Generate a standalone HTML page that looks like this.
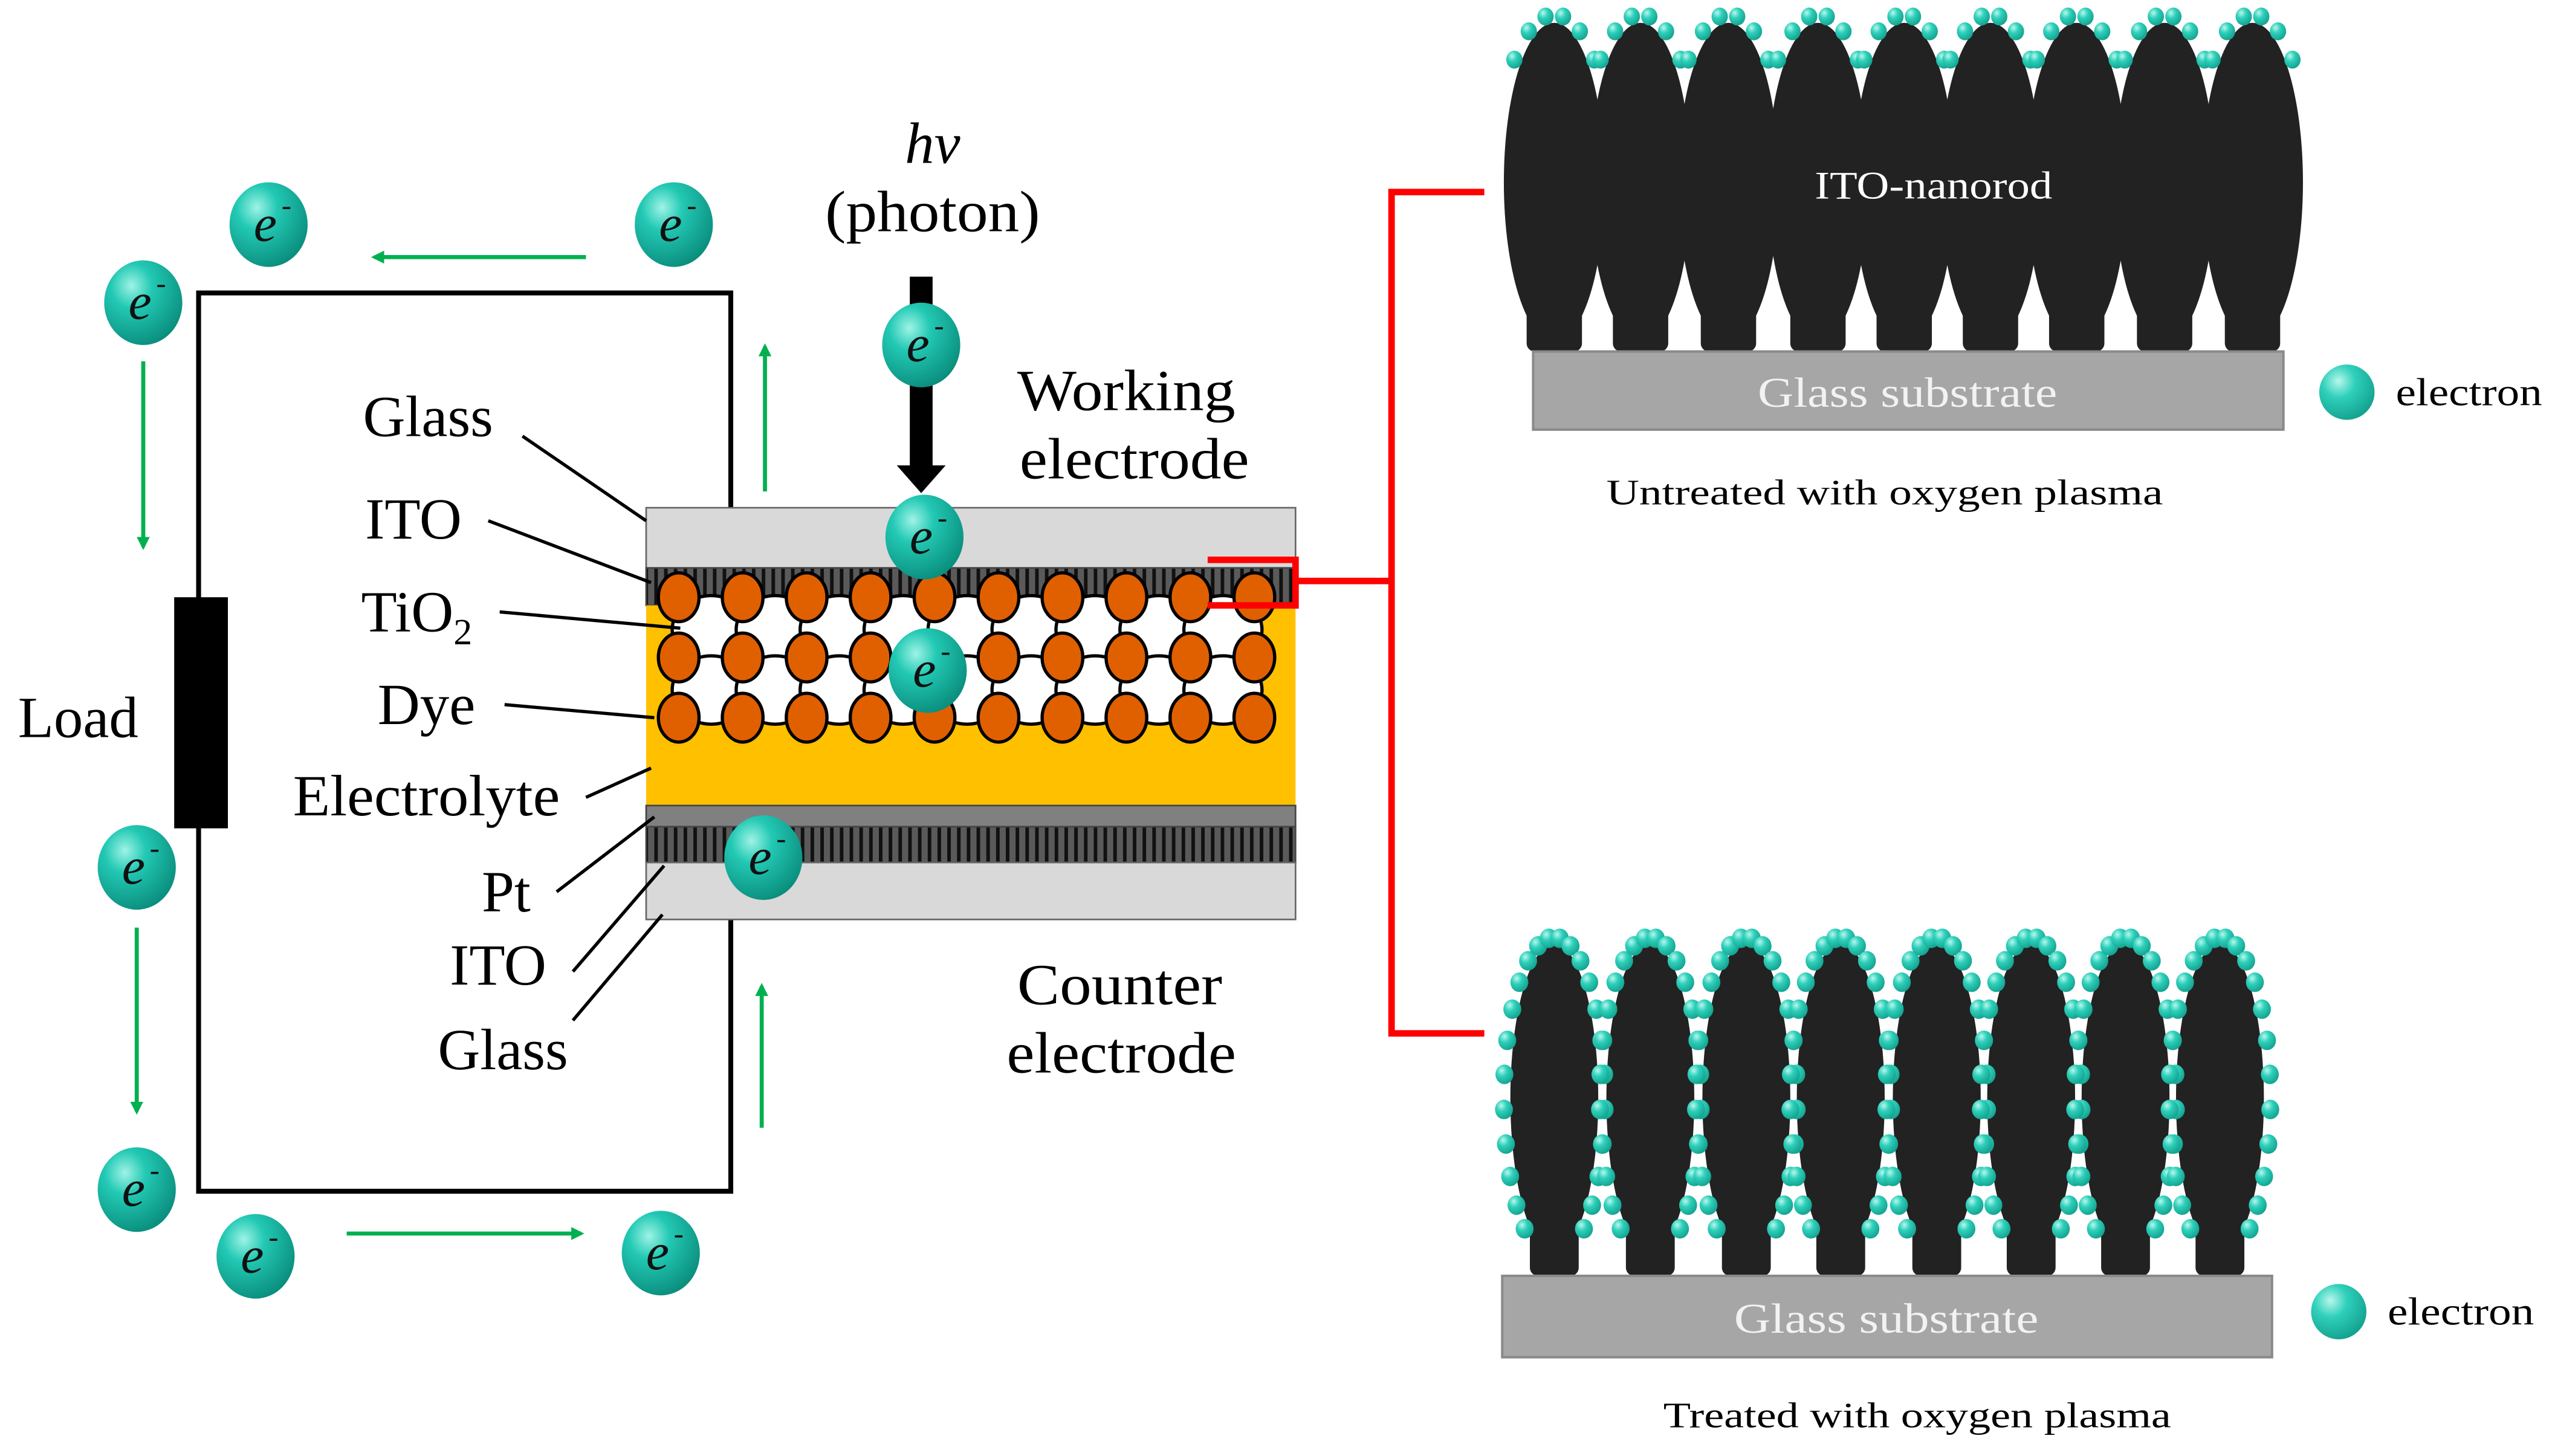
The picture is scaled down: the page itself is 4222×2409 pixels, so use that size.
<!DOCTYPE html>
<html><head><meta charset="utf-8"><style>
html,body{margin:0;padding:0;background:#fff;}
svg{display:block;}
text{font-family:"Liberation Serif",serif;}
</style></head><body>
<svg id="s" width="4222" height="2409" viewBox="0 0 1568 894.7" xmlns="http://www.w3.org/2000/svg">
<defs>
<radialGradient id="eg" cx="0.35" cy="0.3" r="0.75">
<stop offset="0" stop-color="#9ff3e6"/><stop offset="0.35" stop-color="#22c9b4"/><stop offset="1" stop-color="#0a8c7c"/>
</radialGradient>
<radialGradient id="dg" cx="0.35" cy="0.3" r="0.75">
<stop offset="0" stop-color="#b8f7ec"/><stop offset="0.4" stop-color="#2fd0bb"/><stop offset="1" stop-color="#12a08e"/>
</radialGradient>
<pattern id="hatch" width="6" height="30" patternUnits="userSpaceOnUse">
<rect width="6" height="30" fill="#5a5a5a"/><rect x="0" width="2.2" height="30" fill="#111"/>
</pattern>
<marker id="ga" markerWidth="8" markerHeight="8" refX="6" refY="4" orient="auto" markerUnits="userSpaceOnUse"><path d="M0,0 L8,4 L0,8 z" fill="#00b050"/></marker>
</defs>

<g stroke="#000" stroke-width="3" fill="none">
<path d="M449,312 V180 H122 V732 H449 V565"/>
</g>
<rect x="107" y="367" width="33" height="142" fill="#000"/>

<g stroke="#00b050" stroke-width="2.5" marker-end="url(#ga)">
<line x1="360" y1="158" x2="230" y2="158"/>
<line x1="88" y1="222" x2="88" y2="336"/>
<line x1="84" y1="570" x2="84" y2="683"/>
<line x1="213" y1="758" x2="357" y2="758"/>
<line x1="470" y1="302" x2="470" y2="213"/>
<line x1="468" y1="693" x2="468" y2="606"/>
</g>

<rect x="559" y="170" width="14" height="118" fill="#000"/>
<path d="M551,286 L581,286 L566,303 z" fill="#000"/>

<rect x="397" y="312" width="399" height="37" fill="#d9d9d9" stroke="#666" stroke-width="1"/>
<rect x="397" y="349" width="399" height="23" fill="url(#hatch)" stroke="#444" stroke-width="1"/>
<rect x="397" y="372" width="399" height="123" fill="#ffc000"/>
<rect x="397" y="495" width="399" height="13" fill="#808080" stroke="#444" stroke-width="1"/>
<rect x="397" y="508" width="399" height="22" fill="url(#hatch)" stroke="#444" stroke-width="1"/>
<rect x="397" y="530" width="399" height="35" fill="#d9d9d9" stroke="#666" stroke-width="1"/>
<g id="tio2"></g>

<g stroke="#000" stroke-width="2">
<line x1="321" y1="268" x2="397" y2="320"/>
<line x1="300" y1="320" x2="400" y2="358"/>
<line x1="307" y1="376" x2="418" y2="386"/>
<line x1="310" y1="433" x2="402" y2="441"/>
<line x1="360" y1="490" x2="400" y2="472"/>
<line x1="342" y1="548" x2="402" y2="502"/>
<line x1="352" y1="597" x2="408" y2="532"/>
<line x1="352" y1="627" x2="407" y2="562"/>
</g>

<g font-size="36" fill="#000">
<text x="263" y="268" text-anchor="middle">Glass</text>
<text x="254" y="331" text-anchor="middle">ITO</text>
<text x="256" y="388" text-anchor="middle">TiO<tspan font-size="23" dy="8">2</tspan></text>
<text x="262" y="445" text-anchor="middle">Dye</text>
<text x="48" y="453" text-anchor="middle">Load</text>
<text x="262" y="501" text-anchor="middle" textLength="164" lengthAdjust="spacingAndGlyphs">Electrolyte</text>
<text x="311" y="560" text-anchor="middle">Pt</text>
<text x="306" y="605" text-anchor="middle">ITO</text>
<text x="309" y="657" text-anchor="middle">Glass</text>
<text x="692" y="252" text-anchor="middle" textLength="134" lengthAdjust="spacingAndGlyphs">Working</text>
<text x="697" y="294" text-anchor="middle" textLength="141" lengthAdjust="spacingAndGlyphs">electrode</text>
<text x="688" y="617" text-anchor="middle" textLength="126" lengthAdjust="spacingAndGlyphs">Counter</text>
<text x="689" y="659" text-anchor="middle" textLength="141" lengthAdjust="spacingAndGlyphs">electrode</text>
<text x="573" y="100" text-anchor="middle" font-style="italic">hv</text>
<text x="573" y="142" text-anchor="middle" textLength="132" lengthAdjust="spacingAndGlyphs">(photon)</text>
</g>

<g stroke="#ff0000" stroke-width="4" fill="none">
<path d="M742,344 H796 V372 H742"/>
<line x1="796" y1="357" x2="855" y2="357"/>
<path d="M912,118 H855 V635 H912"/>
</g>

<g id="rods"></g>
<rect x="942" y="216" width="461" height="48" fill="#a6a6a6" stroke="#8a8a8a" stroke-width="1.5"/>
<rect x="923" y="784" width="473" height="50" fill="#a6a6a6" stroke="#8a8a8a" stroke-width="1.5"/>
<g id="dots"></g>
<text x="1188" y="122" font-size="24" fill="#fff" text-anchor="middle" textLength="146" lengthAdjust="spacingAndGlyphs">ITO-nanorod</text>
<text x="1172" y="250" font-size="26" fill="#f2f2f2" text-anchor="middle" textLength="184" lengthAdjust="spacingAndGlyphs">Glass substrate</text>
<text x="1159" y="819" font-size="26" fill="#f2f2f2" text-anchor="middle" textLength="187" lengthAdjust="spacingAndGlyphs">Glass substrate</text>
<text x="1158" y="310" font-size="22" text-anchor="middle" textLength="342" lengthAdjust="spacingAndGlyphs">Untreated with oxygen plasma</text>
<text x="1178" y="877" font-size="22" text-anchor="middle" textLength="312" lengthAdjust="spacingAndGlyphs">Treated with oxygen plasma</text>
<ellipse cx="1442" cy="241" rx="17" ry="17" fill="url(#dg)"/>
<text x="1472" y="249" font-size="24" textLength="90" lengthAdjust="spacingAndGlyphs">electron</text>
<ellipse cx="1437" cy="806" rx="17" ry="17" fill="url(#dg)"/>
<text x="1467" y="814" font-size="24" textLength="90" lengthAdjust="spacingAndGlyphs">electron</text>

<g id="elec"></g>
</svg>
<script>
(function(){
var NS="http://www.w3.org/2000/svg";
function el(p,t,a){var e=document.createElementNS(NS,t);for(var k in a)e.setAttribute(k,a[k]);p.appendChild(e);return e;}
var g=document.getElementById('tio2');
var sp=39.3;
for(var r=0;r<2;r++)for(var i=0;i<9;i++)el(g,'ellipse',{cx:437+sp*i,cy:387+r*37,rx:24,ry:21,fill:'#fff',stroke:'#000','stroke-width':2});
for(var r=0;r<3;r++)for(var i=0;i<10;i++)el(g,'ellipse',{cx:417+sp*i,cy:367+r*37,rx:12.5,ry:15,fill:'#e06000',stroke:'#000','stroke-width':2});
var rods=document.getElementById('rods'),dots=document.getElementById('dots');
var topX=[955,1008,1062,1117,1170,1223,1276,1330,1384];
topX.forEach(function(cx){
 el(rods,'ellipse',{cx:cx,cy:112,rx:31,ry:98,fill:'#222'});
 el(rods,'rect',{x:cx-17,y:150,width:34,height:66,rx:5,fill:'#222'});
 [-0.75,-0.45,-0.15,0.15,0.45,0.75].forEach(function(t){
   var x=cx+36*Math.sin(t), y=112-103*Math.cos(t);
   el(dots,'ellipse',{cx:x,cy:y,rx:5,ry:5.5,fill:'url(#dg)'});
 });
});
var botX=[955,1014,1073,1131,1190,1248,1306,1364];
botX.forEach(function(cx){
 el(rods,'ellipse',{cx:cx,cy:675,rx:27,ry:95,fill:'#222'});
 el(rods,'rect',{x:cx-15,y:730,width:30,height:54,rx:5,fill:'#222'});
 var n=24;
 for(var k=0;k<n;k++){
  var t=-Math.PI*0.80+k*(1.6*Math.PI)/(n-1);
  var x=cx+31*Math.sin(t), y=675-99*Math.cos(t);
  el(dots,'ellipse',{cx:x,cy:y,rx:5.5,ry:6,fill:'url(#dg)'});
 }
});
var E=document.getElementById('elec');
[[165,138],[414,138],[88,186],[84,533],[84,731],[157,772],[406,770],[566,212],[568,330],[570,412],[469,527]].forEach(function(p){
 el(E,'ellipse',{cx:p[0],cy:p[1],rx:24,ry:26,fill:'url(#eg)'});
 var t=el(E,'text',{x:p[0]-2,y:p[1]+10,'font-size':32,'font-style':'italic','text-anchor':'middle',fill:'#111','font-family':'Liberation Sans, sans-serif'});
 t.textContent='e';
 var s=el(E,'text',{x:p[0]+8,y:p[1]-6,'font-size':18,fill:'#111','font-family':'Liberation Sans, sans-serif'});
 s.textContent='-';
});
})();
</script>
</body></html>
